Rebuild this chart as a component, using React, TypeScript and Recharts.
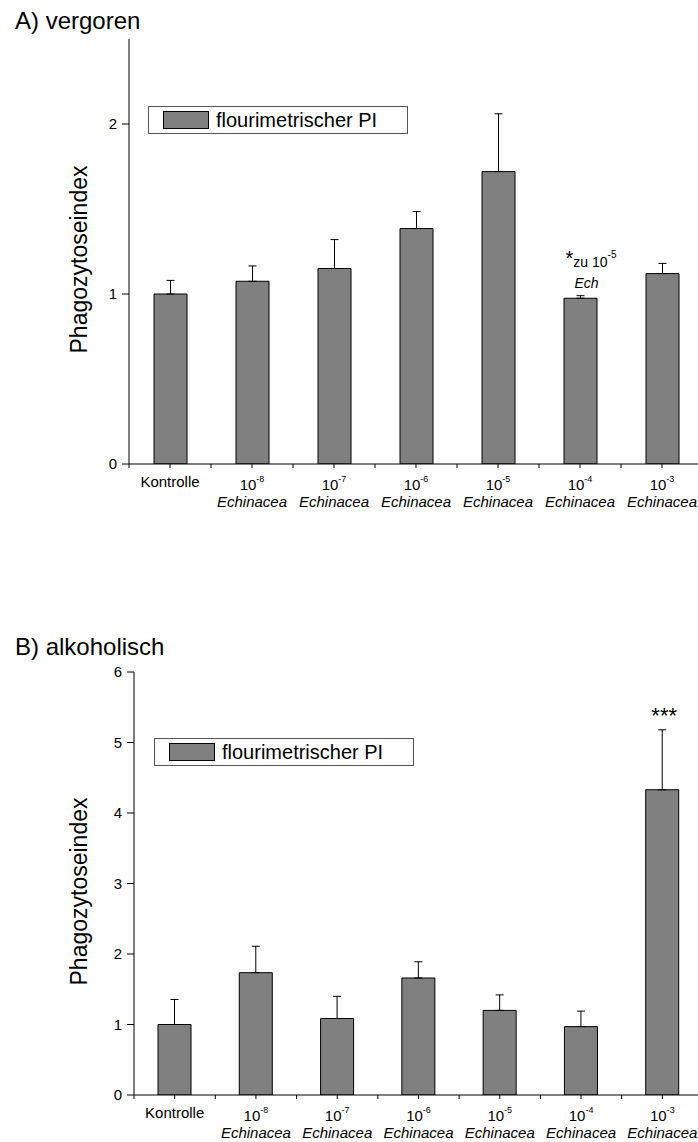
import React from 'react'
import { BarChart, Bar, XAxis, YAxis, ErrorBar, Legend, LabelList, Label } from 'recharts'

const FONT = '"Liberation Sans", Arial, sans-serif'

const categories = ['Kontrolle', '10^-8|Echinacea', '10^-7|Echinacea', '10^-6|Echinacea', '10^-5|Echinacea', '10^-4|Echinacea', '10^-3|Echinacea']
const seriesName = 'flourimetrischer PI'

// A) vergoren
const valuesA = [1.0, 1.075, 1.15, 1.385, 1.72, 0.975, 1.12]
const errorsA = [0.08, 0.09, 0.17, 0.1, 0.34, 0.015, 0.06]
const sigA = ['', '', '', '', '', '*zu 10^-5|Ech', '']
const ticksA = [0, 1, 2]

// B) alkoholisch
const valuesB = [1.0, 1.735, 1.085, 1.66, 1.2, 0.97, 4.33]
const errorsB = [0.355, 0.375, 0.315, 0.23, 0.22, 0.22, 0.85]
const sigB = ['', '', '', '', '', '', '***']
const ticksB = [0, 1, 2, 3, 4, 5, 6]

const build = (values: number[], errors: number[], sig: string[]) =>
  categories.map((c, i) => ({ cat: c, pi: values[i], err: [0, errors[i]], sig: sig[i] }))

const dataA = build(valuesA, errorsA, sigA)
const dataB = build(valuesB, errorsB, sigB)

const makeTick = (band: number) => ({ x, y, payload }: any) => {
  const [top, bottom] = String(payload.value).split('|')
  const [base, exp] = top.split('^')
  return (
    <g fontFamily={FONT} fill="#000">
      <line x1={x} y1={y} x2={x} y2={y + 4} stroke="#000" />
      <line x1={x - band / 2} y1={y} x2={x - band / 2} y2={y + 4} stroke="#000" />
      {exp ? (
        <>
          <text x={x} y={y + 26} textAnchor="middle" fontSize={15}>
            <tspan>{base}</tspan>
            <tspan dy={-8} fontSize={9}>{exp}</tspan>
          </text>
          <text x={x} y={y + 43} textAnchor="middle" fontSize={15} fontStyle="italic">{bottom}</text>
        </>
      ) : (
        <text x={x} y={y + 23} textAnchor="middle" fontSize={15}>{base}</text>
      )}
    </g>
  )
}

const YLabel = ({ viewBox }: any) => {
  const cx = 87
  const cy = viewBox.y + viewBox.height / 2 + 8
  return (
    <text x={cx} y={cy} transform={`rotate(-90 ${cx} ${cy})`} textAnchor="middle" fontSize={23} fontFamily={FONT} fill="#000">
      Phagozytoseindex
    </text>
  )
}

const makeSig = (values: number[], errors: number[]) => (props: any) => {
  const vb = props.viewBox ?? props
  const { x, y, width, height } = vb
  const { value, index } = props
  if (!value) return null
  const cx = x + width / 2
  const errTop = y - errors[index] * (height / values[index])
  if (!String(value).includes('|')) {
    return (
      <text x={cx + 2} y={errTop - 7} textAnchor="middle" fontSize={22} fontFamily={FONT} fill="#000">{value}</text>
    )
  }
  const [main, sub] = String(value).split('|')
  const [txt, exp] = main.slice(1).split('^')
  return (
    <g fontFamily={FONT} fill="#000">
      <text x={cx - 15} y={y - 31} fontSize={14}>
        <tspan fontSize={20} dy={-2}>{main[0]}</tspan>
        <tspan dy={2}>{txt}</tspan>
        <tspan dy={-9} fontSize={10}>{exp}</tspan>
      </text>
      <text x={cx + 6} y={y - 10} textAnchor="middle" fontSize={14} fontStyle="italic">{sub}</text>
    </g>
  )
}

const LegendBox = ({ payload }: any) => {
  const item = payload?.[0]
  return (
    <div style={{ boxSizing: 'border-box', width: 260, height: 28, border: '1px solid #555', display: 'flex', alignItems: 'center', paddingLeft: 14, background: '#fff', fontFamily: FONT }}>
      <span style={{ display: 'inline-block', boxSizing: 'border-box', width: 46, height: 18, background: '#808080', border: '1px solid #000', marginRight: 7 }} />
      <span style={{ fontSize: 20, lineHeight: '20px', color: '#000' }}>{item?.value ?? seriesName}</span>
    </div>
  )
}

interface PanelProps {
  data: any[]
  values: number[]
  errors: number[]
  ticks: number[]
  max: number
  yWidth: number
  marginTop: number
  height: number
  xHeight: number
  legendPos: { left: number; top: number }
}

function Panel({ data, values, errors, ticks, max, yWidth, marginTop, height, xHeight, legendPos }: PanelProps) {
  const band = (720 - 17 - yWidth) / categories.length
  return (
    <BarChart width={720} height={height} data={data} margin={{ top: marginTop, right: 17, left: 0, bottom: 0 }}>
      <XAxis dataKey="cat" height={xHeight} axisLine={{ stroke: '#000' }} tickLine={false} tickSize={0} tickMargin={0} interval={0} tick={makeTick(band)} />
      <YAxis domain={[0, max]} ticks={ticks} width={yWidth} allowDataOverflow axisLine={{ stroke: '#000' }} tickLine={{ stroke: '#000' }} tickSize={7} tickMargin={5} tick={{ fill: '#000', fontSize: 15, fontFamily: FONT }}>
        <Label content={YLabel} />
      </YAxis>
      <Legend layout="horizontal" verticalAlign="middle" align="center" content={LegendBox} wrapperStyle={{ left: legendPos.left, top: legendPos.top, width: 260, height: 28 }} />
      <Bar dataKey="pi" name={seriesName} fill="#808080" stroke="#000" strokeWidth={1} barSize={33} isAnimationActive={false}>
        <ErrorBar dataKey="err" direction="y" width={4} stroke="#000" strokeWidth={1} isAnimationActive={false} />
        <LabelList dataKey="sig" content={makeSig(values, errors)} />
      </Bar>
    </BarChart>
  )
}

export default function App() {
  return (
    <div style={{ position: 'absolute', left: 0, top: 0, width: 698, height: 1142, overflow: 'hidden', background: '#fff', fontFamily: FONT }}>
      <div style={{ position: 'absolute', left: 15, top: 9, fontSize: 24, lineHeight: '24px', color: '#000' }}>A) vergoren</div>
      <div style={{ position: 'absolute', left: 0, top: 0 }}>
        <Panel data={dataA} values={valuesA} errors={errorsA} ticks={ticksA} max={2.5} yWidth={129} marginTop={39} height={514} xHeight={50} legendPos={{ left: 148, top: 106 }} />
      </div>
      <div style={{ position: 'absolute', left: 15, top: 635, fontSize: 24, lineHeight: '24px', color: '#000' }}>B) alkoholisch</div>
      <div style={{ position: 'absolute', left: 0, top: 630 }}>
        <Panel data={dataB} values={valuesB} errors={errorsB} ticks={ticksB} max={6} yWidth={134} marginTop={42} height={512} xHeight={47} legendPos={{ left: 154, top: 108 }} />
      </div>
    </div>
  )
}
